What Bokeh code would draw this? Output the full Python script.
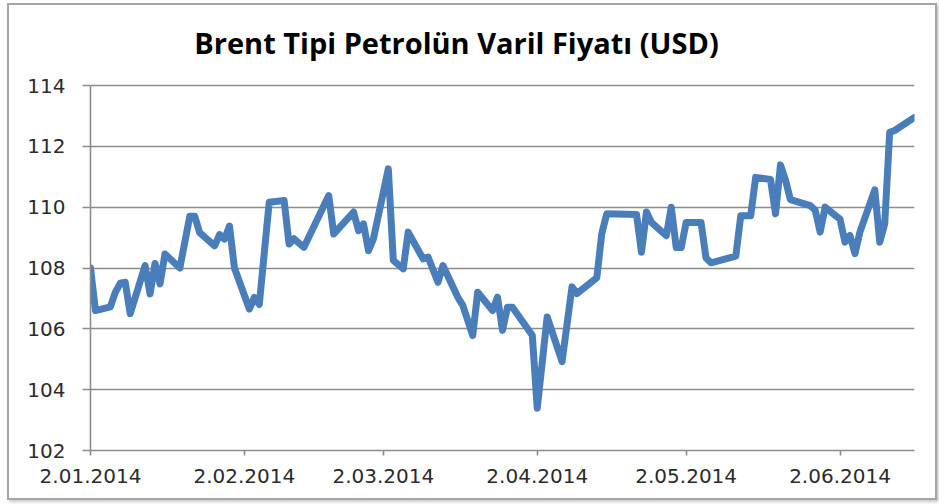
import pandas as pd
from bokeh.plotting import figure
from bokeh.models import ColumnDataSource, FixedTicker, Range1d, Label
from bokeh.embed import file_html
from bokeh.resources import INLINE

title_text = "Brent Tipi Petrolün Varil Fiyatı (USD)"

dates = [
    "2014-01-02", "2014-01-03", "2014-01-06", "2014-01-07", "2014-01-08", "2014-01-09",
    "2014-01-10", "2014-01-13", "2014-01-14", "2014-01-15", "2014-01-16", "2014-01-17",
    "2014-01-20", "2014-01-22", "2014-01-23", "2014-01-24", "2014-01-27", "2014-01-28",
    "2014-01-29", "2014-01-30", "2014-01-31", "2014-02-03", "2014-02-04", "2014-02-05",
    "2014-02-07", "2014-02-10", "2014-02-11", "2014-02-12", "2014-02-14", "2014-02-19",
    "2014-02-20", "2014-02-24", "2014-02-25", "2014-02-26", "2014-02-27", "2014-02-28",
    "2014-03-03", "2014-03-04", "2014-03-06", "2014-03-07", "2014-03-10", "2014-03-11",
    "2014-03-13", "2014-03-14", "2014-03-17", "2014-03-18", "2014-03-20", "2014-03-21",
    "2014-03-24", "2014-03-25", "2014-03-26", "2014-03-27", "2014-03-28", "2014-04-01",
    "2014-04-02", "2014-04-04", "2014-04-07", "2014-04-09", "2014-04-10", "2014-04-14",
    "2014-04-15", "2014-04-16", "2014-04-22", "2014-04-23", "2014-04-24", "2014-04-25",
    "2014-04-28", "2014-04-29", "2014-04-30", "2014-05-01", "2014-05-02", "2014-05-05",
    "2014-05-06", "2014-05-07", "2014-05-12", "2014-05-13", "2014-05-15", "2014-05-16",
    "2014-05-19", "2014-05-20", "2014-05-21", "2014-05-22", "2014-05-23", "2014-05-27",
    "2014-05-28", "2014-05-29", "2014-05-30", "2014-06-02", "2014-06-03", "2014-06-04",
    "2014-06-05", "2014-06-06", "2014-06-09", "2014-06-10", "2014-06-11", "2014-06-12",
    "2014-06-13", "2014-06-17",
]

prices = [
    108.00, 106.60, 106.72, 107.20, 107.50, 107.53,
    106.50, 108.08, 107.15, 108.15, 107.48, 108.46,
    108.00, 109.70, 109.70, 109.16, 108.73, 109.10,
    108.95, 109.38, 108.00, 106.65, 107.03, 106.80,
    110.16, 110.22, 108.79, 108.96, 108.68, 110.38,
    109.12, 109.84, 109.23, 109.45, 108.57, 108.96,
    111.26, 108.25, 107.97, 109.18, 108.30, 108.36,
    107.53, 108.08, 107.04, 106.77, 105.78, 107.20,
    106.60, 107.04, 105.95, 106.71, 106.71, 105.79,
    103.39, 106.39, 104.92, 107.38, 107.16, 107.68,
    109.13, 109.78, 109.76, 108.52, 109.84, 109.50,
    109.06, 110.00, 108.67, 108.67, 109.50, 109.50,
    108.33, 108.17, 108.39, 109.72, 109.72, 110.98,
    110.91, 109.78, 111.39, 110.90, 110.25, 110.05,
    109.90, 109.18, 110.00, 109.60, 108.85, 109.07,
    108.47, 109.18, 110.57, 108.85, 109.45, 112.46,
    112.52, 112.95,
]

tick_dates = ["2014-01-02", "2014-02-02", "2014-03-02", "2014-04-02", "2014-05-02", "2014-06-02"]
tick_labels = ["2.01.2014", "2.02.2014", "2.03.2014", "2.04.2014", "2.05.2014", "2.06.2014"]
y_ticks = [102, 104, 106, 108, 110, 112, 114]

origin = pd.Timestamp(dates[0])
day_x = [(pd.Timestamp(d) - origin).days for d in dates]
tick_x = [(pd.Timestamp(d) - origin).days for d in tick_dates]

source = ColumnDataSource(data=dict(x=day_x, y=prices))

# plot area: 365 px for the 102..114 span; extra headroom above for the title
axis_px = 365
head_px = 80
y_lo, y_hi = y_ticks[0], y_ticks[-1]
y_top = y_hi + (y_hi - y_lo) * head_px / axis_px

p = figure(
    frame_width=824, frame_height=axis_px + head_px,
    min_border_left=81, min_border_right=21, min_border_top=0, min_border_bottom=48,
    output_backend="svg", toolbar_location=None,
    x_range=Range1d(day_x[0], day_x[-1]), y_range=Range1d(y_lo, y_top),
)
p.styles = {"border": "2px solid #a6a6a6", "box-shadow": "2px 2px 3px #c8c8c8",
            "margin-left": "7px", "margin-top": "3px"}
p.outline_line_color = None
p.background_fill_color = "white"
p.border_fill_color = "white"

grid_col = "#8c8c8c"
p.xgrid.grid_line_color = None
p.ygrid.grid_line_color = grid_col
p.ygrid.grid_line_width = 1.6
p.ygrid.ticker = FixedTicker(ticks=y_ticks)

p.yaxis.ticker = FixedTicker(ticks=y_ticks)
p.yaxis.bounds = (y_lo, y_hi)
p.xaxis.ticker = FixedTicker(ticks=tick_x)
p.xaxis.major_label_overrides = {x: lab for x, lab in zip(tick_x, tick_labels)}

for ax in (p.xaxis[0], p.yaxis[0]):
    ax.axis_line_color = grid_col
    ax.axis_line_width = 1.6
    ax.major_tick_line_color = grid_col
    ax.major_tick_line_width = 1.6
    ax.minor_tick_line_color = None
    ax.major_tick_in = 0
    ax.major_label_text_font = "DejaVu Sans"
    ax.major_label_text_font_size = "20px"
    ax.major_label_text_color = "#2b2b2b"

p.yaxis.major_tick_out = 8
p.yaxis.major_label_standoff = 17
p.xaxis.major_tick_out = 5
p.xaxis.major_label_standoff = 13

p.line("x", "y", source=source, line_color="#4a7ebb", line_width=7,
       line_join="round", line_cap="round")

title = Label(x=366, y=408, x_units="screen", y_units="screen", text=title_text,
              text_font="Open Sans", text_font_style="bold", text_font_size="29px",
              text_color="#000000", text_align="center", text_baseline="alphabetic")
p.add_layout(title)

open("out.html", "w").write(file_html(p, INLINE))
